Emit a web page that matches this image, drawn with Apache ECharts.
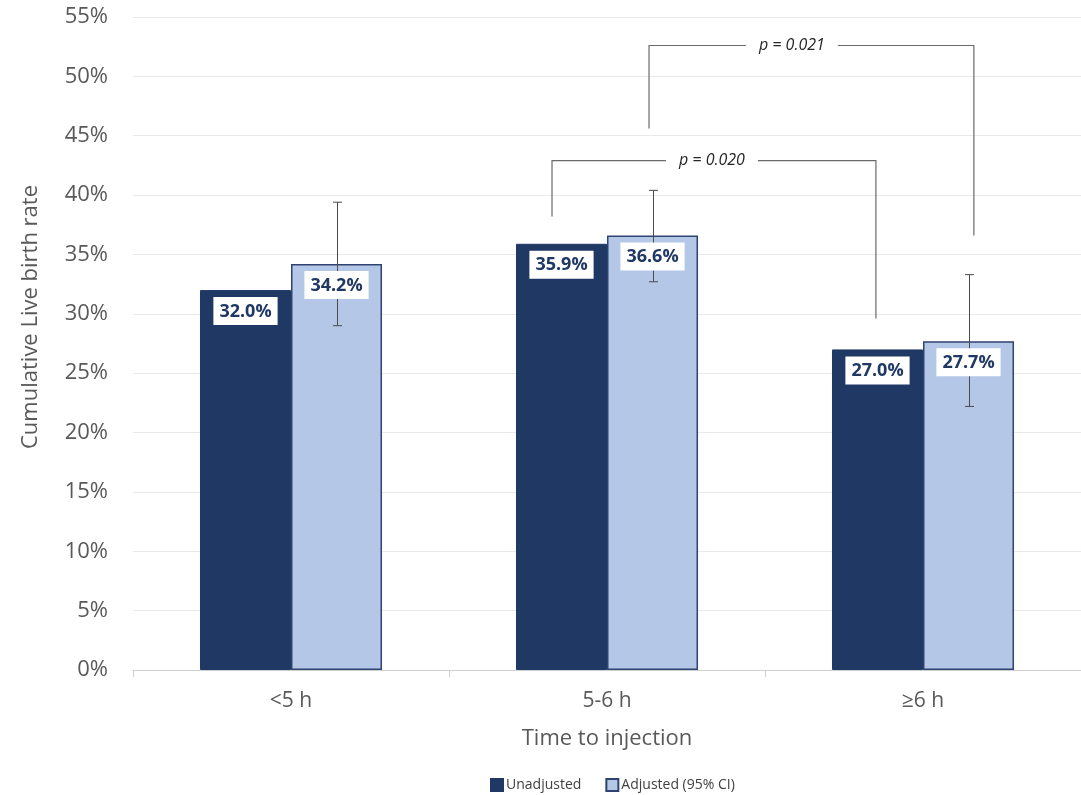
<!DOCTYPE html>
<html>
<head>
<meta charset="utf-8">
<script src="https://cdn.jsdelivr.net/npm/echarts@6/dist/echarts.min.js"></script>
<style>
html,body{margin:0;padding:0;background:#fff;}
#chart{width:1081px;height:795px;}
</style>
</head>
<body>
<div id="chart"></div>
<script>
// ---- data ----
const categories = ['<5 h', '5-6 h', '≥6 h'];
const unadjusted = [32.0, 35.9, 27.0];
const adjusted = [34.2, 36.6, 27.7];
const ciLow = [29.0, 32.7, 22.2];
const ciHigh = [39.4, 40.4, 33.3];
const yTicks = [0, 5, 10, 15, 20, 25, 30, 35, 40, 45, 50, 55];
// brackets: position on a 0..3 category scale, values in %
const bracketLabels = ['p = 0.020', 'p = 0.021'];
const bracketX1 = [1.326, 1.633];
const bracketX2 = [2.351, 2.661];
const bracketTop = [42.9, 52.6];
const bracketLeftEnd = [38.2, 45.6];
const bracketRightEnd = [29.6, 36.6];
const bracketTextX = [1.832, 2.085];

const FONT = '"Open Sans", "Liberation Sans", sans-serif';
const BAR_FRAC = 0.288;
const chart = echarts.init(document.getElementById('chart'), null, {renderer: 'canvas'});

// labels for both bar series: [categoryIndex, value, side(-1 left / +1 right)]
const labelData = [];
unadjusted.forEach((v, i) => labelData.push([i, v, -1]));
adjusted.forEach((v, i) => labelData.push([i, v, 1]));

const option = {
  backgroundColor: '#ffffff',
  animation: false,
  textStyle: {fontFamily: FONT},
  grid: {left: 133, right: 0, top: 17, bottom: 125, containLabel: false},
  legend: {
    left: 485,
    top: 773,
    icon: 'rect',
    itemWidth: 12,
    itemHeight: 12,
    itemGap: 24,
    textStyle: {fontSize: 14, color: '#404040', fontFamily: FONT, padding: [0, 0, 0, -2]},
    data: ['Unadjusted', 'Adjusted (95% CI)']
  },
  xAxis: [{
    type: 'category',
    data: categories,
    name: 'Time to injection',
    nameLocation: 'middle',
    nameGap: 58,
    nameTextStyle: {fontSize: 22, color: '#595959', fontFamily: FONT},
    axisLine: {lineStyle: {color: '#d0d0d0', width: 1}},
    axisTick: {show: true, length: 7, lineStyle: {color: '#d0d0d0'}},
    axisLabel: {fontSize: 21, color: '#595959', margin: 21, fontFamily: FONT}
  }, {
    type: 'value', min: 0, max: 3, show: false
  }],
  yAxis: {
    type: 'value',
    min: 0, max: 55, interval: 5,
    axisLine: {show: false},
    axisTick: {show: false},
    splitLine: {lineStyle: {color: '#e9e9e9', width: 1}},
    axisLabel: {
      fontSize: 22, color: '#595959', margin: 25, fontFamily: FONT,
      formatter: v => (yTicks.indexOf(v) >= 0 ? v + '%' : '')
    }
  },
  graphic: [{
    type: 'text',
    x: 31,
    y: 317,
    rotation: Math.PI / 2,
    style: {
      text: 'Cumulative Live birth rate',
      fontSize: 22, fill: '#595959', fontFamily: FONT,
      align: 'center', verticalAlign: 'middle'
    }
  }],
  series: [{
    name: 'Unadjusted',
    type: 'bar',
    data: unadjusted,
    barWidth: (BAR_FRAC * 100) + '%',
    barGap: '0%',
    z: 2,
    itemStyle: {color: '#1f3864', borderColor: '#1f3864', borderWidth: 1}
  }, {
    name: 'Adjusted (95% CI)',
    type: 'bar',
    data: adjusted,
    barWidth: (BAR_FRAC * 100) + '%',
    barGap: '0%',
    z: 2,
    itemStyle: {color: '#b4c7e7', borderColor: '#2f4370', borderWidth: 1.5}
  }, {
    name: 'CI',
    type: 'custom',
    z: 3,
    xAxisIndex: 0,
    data: categories.map((c, i) => [i, ciLow[i], ciHigh[i]]),
    encode: {x: 0, y: [1, 2]},
    renderItem: function (params, api) {
      const band = api.size([1, 0])[0];
      const off = band * BAR_FRAC / 2;
      const lo = api.coord([api.value(0), api.value(1)]);
      const hi = api.coord([api.value(0), api.value(2)]);
      const x = Math.round(lo[0] + off) + 0.5;
      const cw = 4.5;
      const st = {stroke: '#4a4a4a', lineWidth: 1};
      return {
        type: 'group',
        children: [
          {type: 'line', shape: {x1: x, y1: lo[1], x2: x, y2: hi[1]}, style: st},
          {type: 'line', shape: {x1: x - cw, y1: lo[1], x2: x + cw, y2: lo[1]}, style: st},
          {type: 'line', shape: {x1: x - cw, y1: hi[1], x2: x + cw, y2: hi[1]}, style: st}
        ]
      };
    },
    silent: true
  }, {
    name: 'labels',
    type: 'custom',
    z: 4,
    xAxisIndex: 0,
    data: labelData,
    encode: {x: 0, y: 1},
    renderItem: function (params, api) {
      const band = api.size([1, 0])[0];
      const off = band * BAR_FRAC / 2;
      const side = api.value(2);
      const p = api.coord([api.value(0), api.value(1)]);
      return {
        type: 'text',
        x: p[0] + side * off,
        y: p[1] + 7,
        style: {
          text: api.value(1).toFixed(1) + '%',
          fontSize: 18, fontWeight: 'bold', fill: '#1f3864', fontFamily: FONT,
          align: 'center', verticalAlign: 'top',
          backgroundColor: '#ffffff', padding: [3, 6, 2, 6], lineHeight: 23
        }
      };
    },
    silent: true
  }, {
    name: 'brackets',
    type: 'custom',
    z: 5,
    xAxisIndex: 1,
    clip: false,
    data: bracketLabels.map((t, i) => [bracketX1[i], bracketX2[i], bracketTop[i], bracketLeftEnd[i], bracketRightEnd[i], bracketTextX[i]]),
    encode: {x: [0, 1, 5], y: [2, 3, 4]},
    renderItem: function (params, api) {
      const i = params.dataIndex;
      const pLB = api.coord([api.value(0), api.value(3)]);
      const pLT = api.coord([api.value(0), api.value(2)]);
      const pRT = api.coord([api.value(1), api.value(2)]);
      const pRB = api.coord([api.value(1), api.value(4)]);
      const pT = api.coord([api.value(5), api.value(2)]);
      return {
        type: 'group',
        children: [
          {type: 'polyline', shape: {points: [pLB, pLT, pRT, pRB]},
            style: {stroke: '#6a6a6a', lineWidth: 1.2, fill: null}},
          {type: 'text', x: pT[0], y: pT[1], z2: 10,
            style: {text: bracketLabels[i], fontSize: 16, fontStyle: 'italic', fill: '#262626',
              fontFamily: FONT, align: 'center', verticalAlign: 'middle',
              backgroundColor: '#ffffff', padding: [2, 13, 2, 13]}}
        ]
      };
    },
    silent: true
  }]
};
chart.setOption(option);
</script>
</body>
</html>
